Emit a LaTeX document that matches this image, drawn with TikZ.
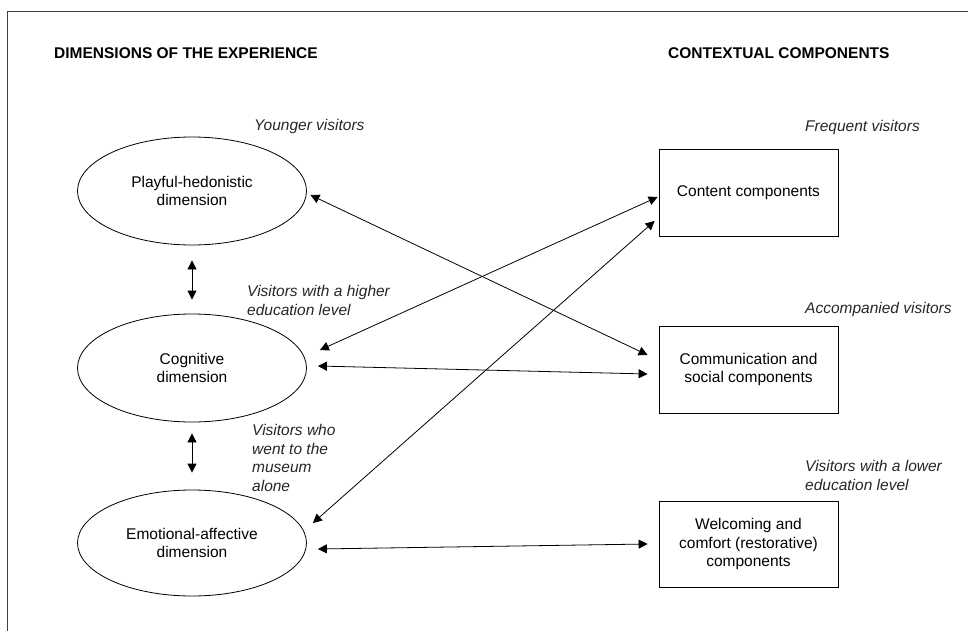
\documentclass[tikz,border=0pt]{standalone}
\usepackage{fontspec}
\setmainfont{Liberation Sans}
\usetikzlibrary{arrows.meta,shapes.geometric,calc}
\tikzset{
  dimnode/.style={ellipse, draw, line width=0.8pt, minimum width=229pt, minimum height=108pt, inner sep=0pt, align=center, font=\fontsize{15.5}{18.5}\selectfont},
  compbox/.style={rectangle, draw, line width=0.8pt, minimum width=179pt, minimum height=87pt, inner sep=0pt, align=center, font=\fontsize{15.5}{18.5}\selectfont},
  header/.style={anchor=base west, inner sep=0pt, font=\fontsize{15.5}{18.5}\selectfont\bfseries},
  grouplabel/.style={anchor=base west, inner sep=0pt, align=left, font=\fontsize{15.5}{18.5}\selectfont\itshape, text=black!85},
  dbl/.style={{Triangle[length=9pt,width=9pt]}-{Triangle[length=9pt,width=9pt]}, line width=0.8pt},
  frameline/.style={line width=1pt, draw=black!75}
}
\begin{document}
\begin{tikzpicture}[x=1pt,y=-1pt]
\useasboundingbox (0,0) rectangle (968,631);
% frame
\coordinate (fl) at (7,631);
\coordinate (fc) at (7,12);
\coordinate (fr) at (968,12);
\draw[frameline] (fl) -- (fc) -- (fr);
% headers
\node[header] (h1) at (54,58.5) {DIMENSIONS OF THE EXPERIENCE};
\node[header] (h2) at (668,58.5) {CONTEXTUAL COMPONENTS};
% dimensions
\node[dimnode] (play) at (192,191) {Playful-hedonistic\\dimension};
\node[dimnode] (cog) at (192,368) {Cognitive\\dimension};
\node[dimnode, minimum height=106pt] (emo) at (192,543) {Emotional-affective\\dimension};
% components
\node[compbox] (cont) at (748.5,192.5) {Content components};
\node[compbox] (comm) at (748.5,369.5) {Communication and\\social components};
\node[compbox, minimum height=86pt] (welc) at (748.5,544) {Welcoming and\\comfort (restorative)\\components};
% labels (anchor at baseline of last line)
\node[grouplabel] (l1) at (254,130.5) {Younger visitors};
\node[grouplabel] (l2) at (805,132) {Frequent visitors};
\node[grouplabel] (l3) at (247,315) {Visitors with a higher\\education level};
\node[grouplabel] (l4) at (805,313) {Accompanied visitors};
\node[grouplabel] (l5) at (252,491) {Visitors who\\went to the\\museum\\alone};
\node[grouplabel] (l6) at (805,490) {Visitors with a lower\\education level};
% vertical arrows
\draw[dbl, shorten <=15pt, shorten >=14pt] (play.south) -- (cog.north);
\draw[dbl, shorten <=11pt, shorten >=17pt] (cog.south) -- (emo.north);
% cross arrows
\draw[dbl] ($(play.east)+(3.5,4)$) -- ($(comm.west)+(-11,-14.5)$);
\draw[dbl] ($(cog.east)+(13,-18)$) -- ($(cont.west)+(-1,4.5)$);
\draw[dbl] ($(cog.east)+(11,-2)$) -- ($(comm.west)+(-11,4.5)$);
\draw[dbl] ($(emo.east)+(6,-20)$) -- ($(cont.west)+(-4,28.5)$);
\draw[dbl] ($(emo.east)+(11,6)$) -- ($(welc.west)+(-11,0)$);
\end{tikzpicture}
\end{document}
